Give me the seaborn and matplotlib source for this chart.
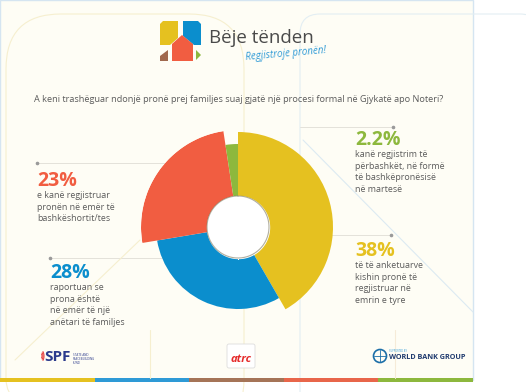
import matplotlib.pyplot as plt
import matplotlib.patches as mpatches
import seaborn as sns
import numpy as np
import pandas as pd

# data
labels = ["38%", "28%", "23%", "2.2%"]
values = [38, 28, 23, 2.2]
colors = ["#E5C120", "#0B8ECD", "#F15D41", "#8DB83D"]
outer_r = [95, 82, 97, 83]   # each slice is drawn to its own radius
captions = [
    "të të anketuarve\nkishin pronë të\nregjistruar në\nemrin e tyre",
    "raportuan se\nprona është\nnë emër të një\nanëtari të familjes",
    "e kanë regjistruar\npronën në emër të\nbashkëshortit/tes",
    "kanë regjistrim të\npërbashkët, në formë\ntë bashkëpronësisë\nnë martesë",
]
question = "A keni trashëguar ndonjë pronë prej familjes suaj gjatë një procesi formal në Gjykatë apo Noteri?"

W, H = 526, 392
BG = "#FEFDF5"
GREY = "#5B5B5B"

sns.set_theme(style="white")
plt.rcParams["font.family"] = ["Open Sans", "DejaVu Sans"]

fig = plt.figure(figsize=(W / 100, H / 100), dpi=100)
fig.patch.set_facecolor("white")

# background canvas in pixel coordinates
bg = fig.add_axes([0, 0, 1, 1])
bg.set_xlim(0, W)
bg.set_ylim(H, 0)
bg.axis("off")
bg.add_patch(mpatches.Rectangle((0, 0), 473, 380, facecolor=BG, edgecolor="#D5E5F1", lw=1))

# faint decorative lines
bg.add_patch(mpatches.FancyBboxPatch((6, 14), 238, 420, boxstyle="round,pad=0,rounding_size=55",
                                     fill=False, edgecolor="#F6EFCF", lw=0.8))
bg.add_patch(mpatches.FancyBboxPatch((300, 14), 240, 420, boxstyle="round,pad=0,rounding_size=20",
                                     fill=False, edgecolor="#E3EEF3", lw=0.8))
bg.plot([303, 473], [140, 312], color="#DCEAF2", lw=0.8)
bg.plot([150, 150], [330, 378], color="#F6EFCF", lw=0.8)
bg.plot([395, 395], [330, 378], color="#F6EBD8", lw=0.8)
bg.plot([15, 140], [360, 240], color="#F6EFCF", lw=0.8)

# bottom stripe
stripe = ["#E5C120", "#2E9AD6", "#A57457", "#E8664A", "#8DB83D"]
seg = 473 / len(stripe)
for i, c in enumerate(stripe):
    bg.add_patch(mpatches.Rectangle((i * seg, 378), seg, 4, facecolor=c, edgecolor="none"))

# logo
bg.add_patch(mpatches.Polygon([(160, 24), (163, 21), (178, 21), (178, 38), (170, 45), (160, 45)],
                              closed=True, facecolor="#E5C120", edgecolor="none"))
bg.add_patch(mpatches.Polygon([(183, 21), (198, 21), (201, 24), (201, 45), (194, 45), (183, 36)],
                              closed=True, facecolor="#0B8ECD", edgecolor="none"))
bg.add_patch(mpatches.Polygon([(172, 44), (182, 35), (193, 44), (193, 61), (172, 61)],
                              closed=True, facecolor="#F15D41", edgecolor="none"))
bg.add_patch(mpatches.Polygon([(160, 61), (160, 56), (168, 50), (168, 61)],
                              closed=True, facecolor="#A0694E", edgecolor="none"))
bg.add_patch(mpatches.Polygon([(196, 50), (201, 55), (196, 60)],
                              closed=True, facecolor="#8DB83D", edgecolor="none"))
bg.text(209, 43, "Bëje tënden", fontsize=13.5, color="#4A4A4A", va="baseline", ha="left")
bg.text(245, 60, "Regjistroje pronën!", fontsize=7, color="#2E9AD6", style="italic",
        rotation=5, va="baseline", ha="left")

bg.text(34, 102, question, fontsize=6.6, color=GREY, va="baseline", ha="left")

# annotations: (x, y of big number baseline, line y, line x-range, dot x)
ann = {
    "23%": (37, 186, 163, (37, 200), 37),
    "28%": (50, 278, 258, (50, 240), 50),
    "2.2%": (355, 145, 127, (300, 393), 393),
    "38%": (355, 256, 235, (287, 391), 391),
}
for lab, col, cap in zip(labels, colors, captions):
    x, yb, ly, (x0, x1), dx = ann[lab]
    bg.plot([x0, x1], [ly, ly], color="#E4E2DA", lw=0.7, zorder=1)
    bg.plot([dx], [ly], marker="o", ms=1.6, color="#9A9A9A", zorder=1)
    bg.text(x, yb, lab, fontsize=14, fontweight="bold", color=col, va="baseline", ha="left")
    bg.text(x, yb + 5, cap, fontsize=6.4, color=GREY, va="top", ha="left", linespacing=1.38)

# bottom logos
for r in [4, 6, 8]:
    bg.add_patch(mpatches.Arc((40, 356), r, r * 1.6, theta1=-60, theta2=60, color="#E84545", lw=0.8))
bg.text(44, 361, "SPF", fontsize=11, fontweight="bold", color="#2B3A8C", va="baseline")
bg.text(73, 353, "STATE AND\nPEACEBUILDING\nFUND", fontsize=2.2, color="#2B3A8C", va="top", linespacing=1.0)
bg.add_patch(mpatches.FancyBboxPatch((227, 344), 28, 24, boxstyle="round,pad=0,rounding_size=2",
                                     facecolor="white", edgecolor="#DDDDDD", lw=0.6))
bg.text(241, 362, "atrc", fontsize=8, fontweight="bold", style="italic", color="#E52B2B",
        ha="center", va="baseline")
bg.add_patch(mpatches.Circle((380, 356), 6.5, facecolor="none", edgecolor="#1C6FA8", lw=1.2))
bg.plot([374, 386], [356, 356], color="#1C6FA8", lw=0.6)
bg.plot([380, 380], [350, 362], color="#1C6FA8", lw=0.6)
bg.text(389, 359, "WORLD BANK GROUP", fontsize=5.2, fontweight="bold", color="#1F3A6E", va="baseline")
bg.text(389, 352, "SUPPORTED BY", fontsize=1.8, color="#2E9AD6", va="baseline")

# variable radius donut
df = pd.DataFrame({"label": labels, "value": values, "color": colors, "r": outer_r})
df["width"] = df["value"] / df["value"].sum() * 2 * np.pi
df["theta"] = df["width"].cumsum() - df["width"] / 2

cx, cy, R, r_in = 238, 227, 97, 31
ax = fig.add_axes([(cx - R) / W, (H - cy - R) / H, 2 * R / W, 2 * R / H], projection="polar")
ax.set_theta_zero_location("N")
ax.set_theta_direction(-1)
ax.bar(df["theta"], df["r"] - r_in, width=df["width"], bottom=r_in, color=df["color"],
       edgecolor="none", align="center")
th = np.linspace(0, 2 * np.pi, 200)
ax.fill_between(th, 0, r_in, color="white", zorder=3)
ax.plot(th, np.full_like(th, r_in), color="#7F7A60", lw=0.8, alpha=0.6, zorder=4)
ax.set_ylim(0, R)
ax.axis("off")
ax.patch.set_alpha(0)

fig.savefig("out.png", dpi=100, facecolor="white")
